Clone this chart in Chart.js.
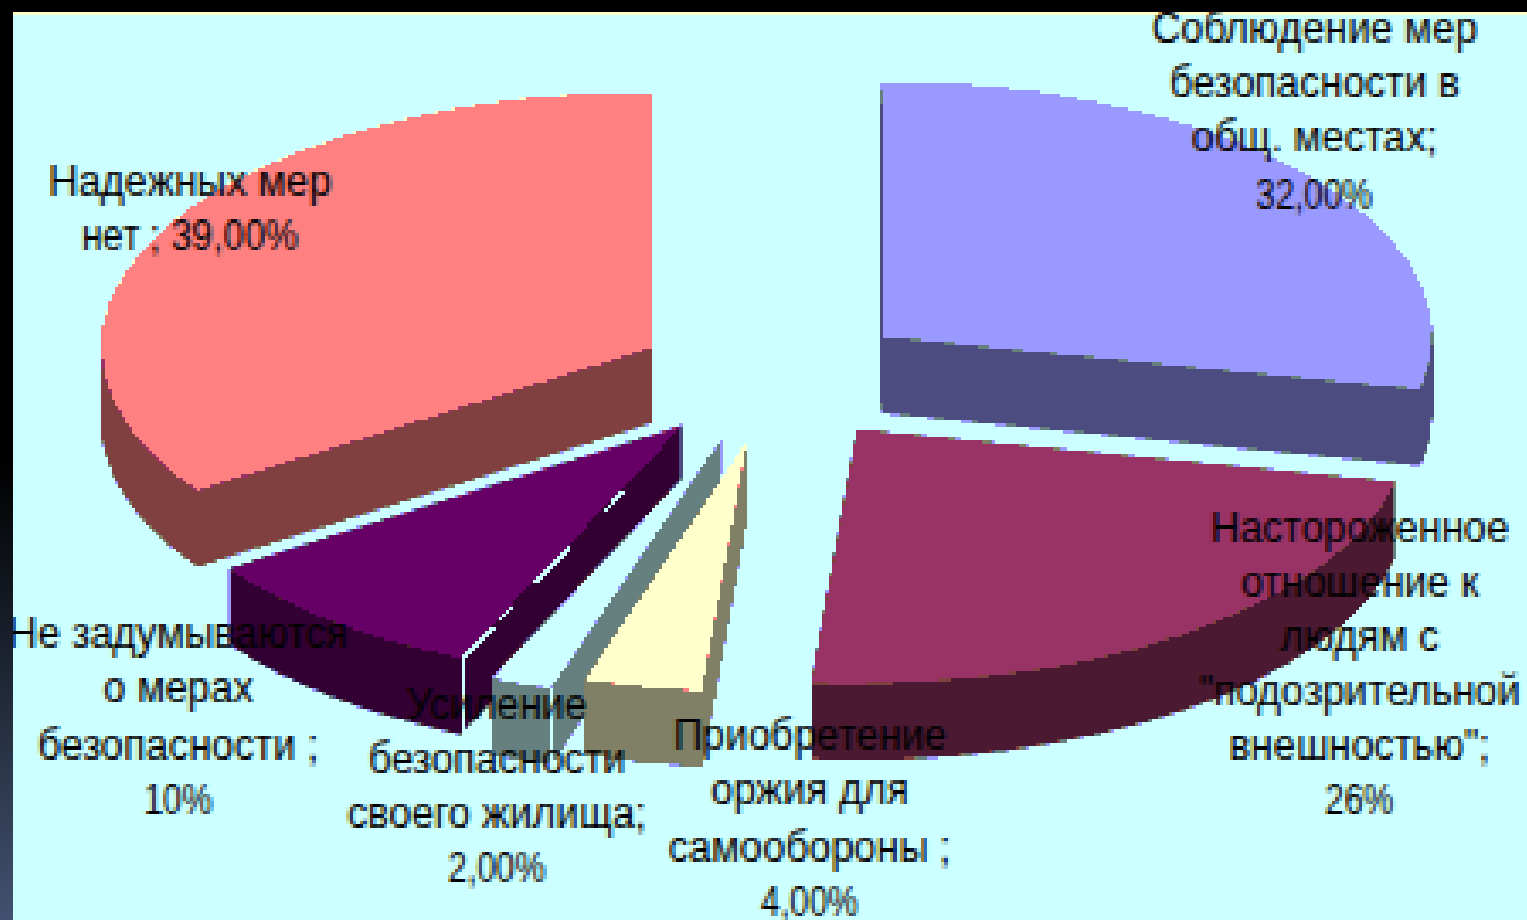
<!DOCTYPE html>
<html lang="ru">
<head>
<meta charset="utf-8">
<title>Меры безопасности</title>
<script src="https://cdn.jsdelivr.net/npm/chart.js@4/dist/chart.umd.min.js"></script>
<style>
    html, body { margin: 0; height: 100%; overflow: hidden; }
    body { background: linear-gradient(#000 0, #000 50%, #41516f 100%); }
    #wrap { position: absolute; left: 13px; top: 12px; width: 1514px; height: 908px; overflow: hidden; }
    #chart { position: absolute; left: 0; top: 0; image-rendering: pixelated; }
</style>
</head>
<body>
<div id="wrap"><canvas id="chart" width="446" height="268" style="width:1516.4px;height:911.2px"></canvas></div>
<script>
// values as printed on the slices (they add up to 113, the pie just normalises them)
const categories = [
    ['Соблюдение мер', 'безопасности в', 'общ. местах;', '32,00%'],
    ['Настороженное', 'отношение к', 'людям с', '"подозрительной', 'внешностью";', '26%'],
    ['Приобретение', 'оржия для', 'самообороны ;', '4,00%'],
    ['Усиление', 'безопасности', 'своего жилища;', '2,00%'],
    ['Не задумываются', 'о мерах', 'безопасности ;', '10%'],
    ['Надежных мер', 'нет ; 39,00%']
];
const values = [32, 26, 4, 2, 10, 39];

const topColors = ['#9999FF', '#993366', '#FFFFCC', '#CCFFFF', '#660066', '#FF8080'];
const sideColors = ['#4C4C80', '#4C1933', '#808066', '#668080', '#330033', '#804040'];

// label anchors in page pixels: centre x, first baseline
const labelAnchors = [[1315, 41], [1360, 541], [810, 749], [497, 719], [178, 647], [190, 195]];
const lineSteps = [55.7, 54.4, 56, 55, 55.7, 55];

// small per-slice corrections, the small wedges in the original are a bit off the ellipse
const nudgeX = [0, 0, -0.2, -0.6, -0.6, 0];
const nudgeY = [0, 0, 0.3, -0.5, -0.5, 0];
const radiusScale = [1, 1, 0.98, 1.04, 1, 1];

const PX = 3.4;          // the canvas is drawn small and blown up, like the original
const TILT = 0.4636;     // ellipse height / width
const DEPTH = 76 / PX;
const EXPLODE = 139 / PX;
const BG = '#CCFFFF';
const drawOrder = [0, 5, 1, 4, 3, 2];
const seamSlices = [3, 4];
const purpleDashes = [[0, 0.14], [0.17, 0.22], [0.33, 0.49], [0.64, 0.72]];

function hexRgb(h) {
    return [1, 3, 5].map(p => parseInt(h.slice(p, p + 2), 16));
}

function apex(arc, i) {
    const mid = (arc.startAngle + arc.endAngle) / 2;
    return [
        arc.x + Math.cos(mid) * EXPLODE + nudgeX[i],
        arc.y + Math.sin(mid) * EXPLODE * TILT + nudgeY[i]
    ];
}

function corner(arc, i) {
    const [ax, ay] = apex(arc, i);
    const r = arc.outerRadius * radiusScale[i];
    return [ax + Math.cos(arc.startAngle) * r, ay + Math.sin(arc.startAngle) * r * TILT];
}

function wedge(ctx, arc, i, dy, color) {
    const [ax, ay] = apex(arc, i);
    ctx.save();
    ctx.translate(ax, ay + dy);
    ctx.scale(1, TILT);
    ctx.beginPath();
    ctx.moveTo(0, 0);
    ctx.arc(0, 0, arc.outerRadius * radiusScale[i], arc.startAngle, arc.endAngle);
    ctx.closePath();
    ctx.fillStyle = color;
    ctx.fill();
    ctx.restore();
}

// canvas has no way to switch antialiasing off, so snap the shapes back to the palette
function snapToPalette(chart) {
    const ctx = chart.ctx;
    const palette = [BG, '#FFFFCC'].concat(topColors, sideColors).map(hexRgb);
    const img = ctx.getImageData(0, 0, chart.width, chart.height);
    const d = img.data;
    for (let p = 0; p < d.length; p += 4) {
        let best = palette[0], bestDist = Infinity;
        for (const c of palette) {
            const dist = (d[p] - c[0]) ** 2 + (d[p + 1] - c[1]) ** 2 + (d[p + 2] - c[2]) ** 2;
            if (dist < bestDist) { bestDist = dist; best = c; }
        }
        d[p] = best[0]; d[p + 1] = best[1]; d[p + 2] = best[2];
    }
    ctx.putImageData(img, 0, 0);
}

const pie3d = {
    id: 'pie3d',
    beforeDraw(chart) {
        const ctx = chart.ctx;
        ctx.fillStyle = BG;
        ctx.fillRect(0, 0, chart.width, chart.height);
        ctx.fillStyle = '#FFFFCC';
        ctx.fillRect(0, 0, chart.width, 1);
    },
    // replaces the flat arcs with extruded ones, geometry still comes from the controller
    beforeDatasetDraw(chart) {
        const ctx = chart.ctx;
        const arcs = chart.getDatasetMeta(0).data;
        drawOrder.forEach(i => {
            for (let d = DEPTH; d > 0; d -= 0.5) wedge(ctx, arcs[i], i, d, sideColors[i]);
            wedge(ctx, arcs[i], i, 0, topColors[i]);
        });
        snapToPalette(chart);

        ctx.fillStyle = BG;
        seamSlices.forEach(i => {
            const [x, y] = corner(arcs[i], i);
            ctx.fillRect(Math.round(x), Math.round(y), 1, Math.round(DEPTH));
        });
        // broken light line along the front edge of the purple slice
        const [cx, cy] = corner(arcs[4], 4);
        const [ax, ay] = apex(arcs[4], 4);
        purpleDashes.forEach(([from, to]) => {
            for (let t = from; t < to; t += 0.005) {
                ctx.fillRect(Math.round(cx + (ax - cx) * t), Math.round(cy + (ay - cy) * t), 1, 1);
            }
        });
        return false;
    },
    afterDraw(chart) {
        const ctx = chart.ctx;
        ctx.font = '12px "Liberation Sans", Arial, sans-serif';
        ctx.fillStyle = '#000';
        ctx.textAlign = 'center';
        categories.forEach((lines, i) => {
            const [cx, y0] = labelAnchors[i];
            lines.forEach((line, n) => {
                // digits are narrower in the original's hinted font
                const digits = (line.match(/[\d%,]/g) || []).length;
                const width = ctx.measureText(line).width * (1 - 0.16 * digits / line.length);
                ctx.fillText(line, (cx - 13) / PX, Math.round((y0 + n * lineSteps[i] - 12) / PX), width);
            });
        });
    }
};

const canvas = document.getElementById('chart');
canvas.getContext('2d', { alpha: false, willReadFrequently: true });

new Chart(canvas, {
    type: 'pie',
    data: {
        labels: categories.map(c => c.join(' ')),
        datasets: [{ data: values, backgroundColor: topColors, borderWidth: 0, radius: 550 / PX }]
    },
    options: {
        responsive: false,
        devicePixelRatio: 1,
        animation: false,
        layout: { padding: { left: 2, bottom: 53 } },
        plugins: { legend: { display: false }, tooltip: { enabled: false } }
    },
    plugins: [pie3d]
});
</script>
</body>
</html>
